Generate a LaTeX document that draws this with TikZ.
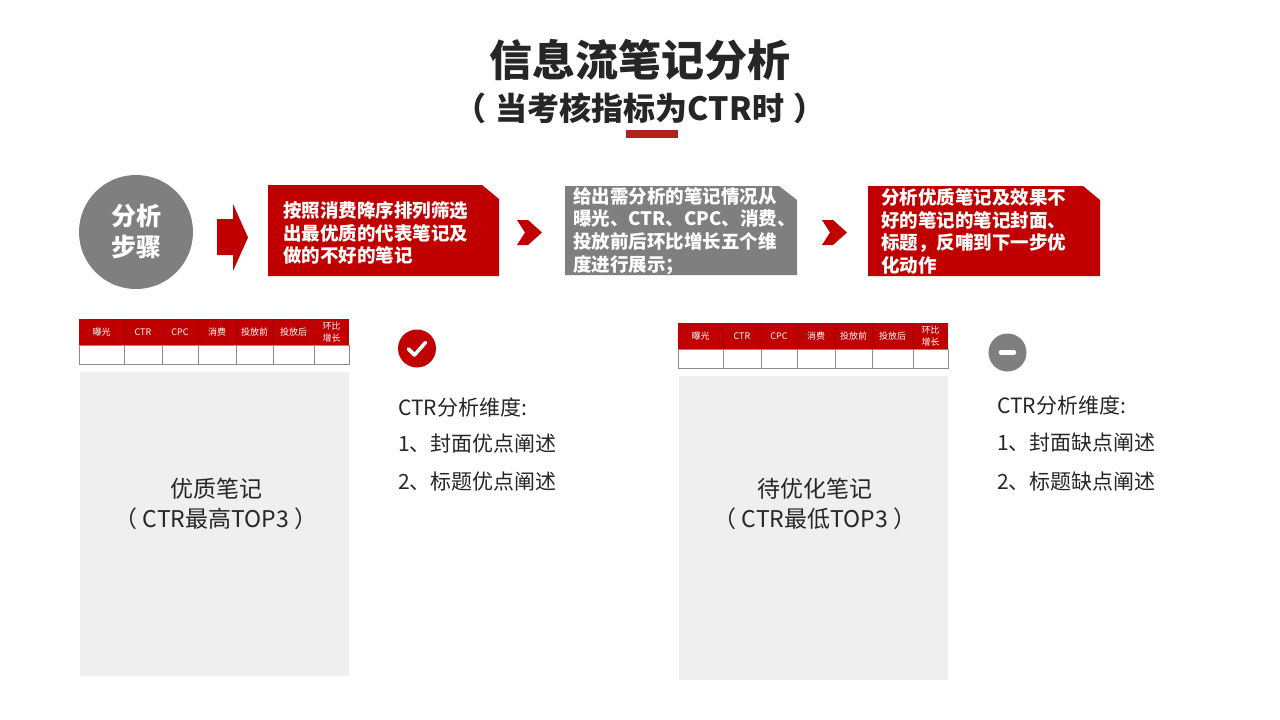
\documentclass[tikz,border=0pt]{standalone}
\usepackage{fontspec}
\setmainfont{Noto Sans CJK SC}
\definecolor{myred}{HTML}{C00000}
\definecolor{darkred}{HTML}{9A0000}
\definecolor{bar}{HTML}{B0221C}
\definecolor{mygray}{HTML}{7F7F7F}
\definecolor{panel}{HTML}{EFEFEF}
\definecolor{txt}{HTML}{262626}
\definecolor{cellline}{HTML}{8C8C8C}
\tikzset{
  hdr/.style={text=white,font=\fontsize{9}{11.5}\selectfont,align=center,inner sep=0},
  cell/.style={draw=cellline,line width=0.8pt,fill=white},
  boxtext/.style={text=white,font=\bfseries\fontsize{18.5}{22.7}\selectfont,align=left,anchor=west,inner sep=0},
  paneltext/.style={text=txt,font=\fontsize{23}{28}\selectfont,inner sep=0},
  dimtext/.style={text=txt,font=\fontsize{21}{24}\selectfont,anchor=west,inner sep=0},
}
\begin{document}
\begin{tikzpicture}[x=1pt,y=-1pt]
\useasboundingbox (0,0) rectangle (1280,720);
\fill[white] (0,0) rectangle (1280,720);

% title
\node[text=txt,font=\bfseries\fontsize{43}{50}\selectfont,inner sep=0] (title) at (640,60) {信息流笔记分析};
\node[text=txt,font=\bfseries\fontsize{32}{38}\selectfont,inner sep=0] (subtitle) at (640,108) {（\hspace{9pt}当考核指标为CTR时\hspace{9pt}）};
\fill[bar] (626,130) rectangle (678,138);

% circle
\node[circle,fill=mygray,minimum size=114pt,inner sep=0,text=white,font=\bfseries\fontsize{25}{31}\selectfont,align=center] (step) at (136,232) {分析\\步骤};

% block arrow
\fill[myred] (217,219) -- (233,219) -- (233,204) -- (248,237.5) -- (233,271) -- (233,255) -- (217,255) -- cycle;

% box 1
\fill[myred] (268,185) -- (482,185) -- (499,199) -- (499,276) -- (268,276) -- cycle;
\node[boxtext] (b1) at (283,233) {按照消费降序排列筛选\\出最优质的代表笔记及\\做的不好的笔记};

% chevron 1
\fill[myred] (517,220) -- (528,220) -- (542,232.5) -- (528,245) -- (517,245) -- (525,232.5) -- cycle;

% box 2
\fill[mygray] (565,186) -- (779,186) -- (797,200) -- (797,275) -- (565,275) -- cycle;
\node[boxtext] (b2) at (573,231) {给出需分析的笔记情况从\\曝光、CTR、CPC、消费、\\投放前后环比增长五个维\\度进行展示；};

% chevron 2
\fill[myred] (822,220) -- (833,220) -- (847,232.5) -- (833,245) -- (822,245) -- (830,232.5) -- cycle;

% box 3
\fill[myred] (868,186) -- (1083,186) -- (1100,200) -- (1100,276) -- (868,276) -- cycle;
\node[boxtext] (b3) at (881,231.5) {分析优质笔记及效果不\\好的笔记的笔记封面、\\标题，反哺到下一步优\\化动作};

% table 1
\begin{scope}[name prefix=ta-]
\fill[myred] (79,319) rectangle (349,345);
\foreach \a/\b/\t [count=\i] in {79/124/曝光,124/162/CTR,162/198/CPC,198/236/消费,236/273/投放前,273/314/投放后,314/349/{环比\\增长}}{
  \draw[cell] (\a,345) rectangle (\b,364);
  \node[hdr] (h\i) at ({(\a+\b)/2},332) {\t};
}
\foreach \a in {124,162,198,236,273,314}{\draw[darkred,line width=0.6pt] (\a,319) -- (\a,345);}
\end{scope}
\fill[panel] (80,372) rectangle (349,676);
\node[paneltext] (p1a) at (216,489) {优质笔记};
\node[paneltext] (p1b) at (216,519) {（\hspace{5pt}CTR最高TOP3\hspace{5pt}）};

% table 2
\begin{scope}[shift={(599,4)},name prefix=tb-]
\fill[myred] (79,319) rectangle (349,345);
\foreach \a/\b/\t [count=\i] in {79/124/曝光,124/162/CTR,162/198/CPC,198/236/消费,236/273/投放前,273/314/投放后,314/349/{环比\\增长}}{
  \draw[cell] (\a,345) rectangle (\b,364);
  \node[hdr] (h\i) at ({(\a+\b)/2},332) {\t};
}
\foreach \a in {124,162,198,236,273,314}{\draw[darkred,line width=0.6pt] (\a,319) -- (\a,345);}
\end{scope}
\fill[panel] (679,376) rectangle (948,680);
\node[paneltext] (p2a) at (815,489) {待优化笔记};
\node[paneltext] (p2b) at (815,519) {（\hspace{5pt}CTR最低TOP3\hspace{5pt}）};

% check icon
\node[circle,fill=myred,minimum size=38pt,inner sep=0] (chk) at (417,348.5) {};
\draw[white,line width=3.6pt,line cap=round,line join=round] (408.5,349) -- (414.5,355) -- (425.5,342.5);
\node[dimtext] (d1) at (398,407) {CTR分析维度:};
\node[dimtext] (d2) at (398,444) {1、封面优点阐述};
\node[dimtext] (d3) at (398,482) {2、标题优点阐述};

% minus icon
\node[circle,fill=mygray,minimum size=38pt,inner sep=0] (mns) at (1007.5,352.5) {};
\draw[white,line width=4.5pt,line cap=round] (1001,352.5) -- (1014,352.5);
\node[dimtext] (e1) at (997,405) {CTR分析维度:};
\node[dimtext] (e2) at (997,442) {1、封面缺点阐述};
\node[dimtext] (e3) at (997,481) {2、标题缺点阐述};
\end{tikzpicture}
\end{document}
